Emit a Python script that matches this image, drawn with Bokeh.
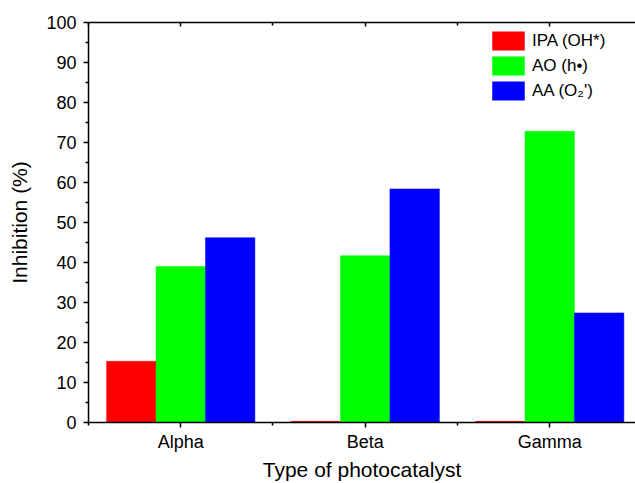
from bokeh.plotting import figure
from bokeh.models import ColumnDataSource, FixedTicker, LinearAxis, Range1d, Legend, LegendItem
from bokeh.transform import dodge
from bokeh.embed import file_html
from bokeh.resources import INLINE

categories = ["Alpha", "Beta", "Gamma"]
series_names = ["IPA (OH*)", "AO (h\u2022)", "AA (O\u2082')"]
ipa = [15.3, 0.3, 0.3]
ao = [39.0, 41.7, 72.8]
aa = [46.2, 58.4, 27.4]
colors = ["#FF0000", "#00FF00", "#0000FF"]
y_ticks = [0, 10, 20, 30, 40, 50, 60, 70, 80, 90, 100]

xpos = [i + 1 for i in range(len(categories))]
src = ColumnDataSource(dict(x=xpos, ipa=ipa, ao=ao, aa=aa))

FONT = "Liberation Sans"

p = figure(width=635, height=483, output_backend="svg", toolbar_location=None,
           x_range=Range1d(0.5, 3.465), y_range=Range1d(0, 100),
           min_border_left=88, min_border_right=0, min_border_top=22, min_border_bottom=61,
           x_axis_label="Type of photocatalyst", y_axis_label="Inhibition (%)")
p.outline_line_color = None
p.grid.visible = False
p.background_fill_color = "white"
p.border_fill_color = "white"

bw = 0.268
renderers = []
for field, off, c in zip(["ipa", "ao", "aa"], [-bw, 0, bw], colors):
    r = p.vbar(x=dodge("x", off), top=field, width=bw, bottom=0, source=src,
               fill_color=c, line_color=c, line_width=0.5)
    renderers.append(r)

xt = FixedTicker(ticks=xpos, minor_ticks=[0.5, 1.5, 2.5, 3.5])
yt = FixedTicker(ticks=y_ticks, minor_ticks=[5, 15, 25, 35, 45, 55, 65, 75, 85, 95])

xa = p.xaxis[0]
xa.ticker = xt
xa.major_label_overrides = {v: c for v, c in zip(xpos, categories)}
ya = p.yaxis[0]
ya.ticker = yt

for ax in (xa, ya):
    ax.axis_line_width = 1.5
    ax.major_tick_line_width = 1.5
    ax.minor_tick_line_width = 1.5
    ax.major_tick_in = 0
    ax.major_tick_out = 5
    ax.minor_tick_in = 0
    ax.minor_tick_out = 3
    ax.major_label_text_font = FONT
    ax.major_label_text_font_size = "18px"
    ax.major_label_text_color = "black"
    ax.axis_label_text_font = FONT
    ax.axis_label_text_font_size = "21px"
    ax.axis_label_text_font_style = "normal"
    ax.axis_label_text_color = "black"

xa.major_label_standoff = 4
xa.axis_label_standoff = 3
ya.major_label_standoff = 7
ya.axis_label_standoff = 12

top = LinearAxis(ticker=xt, major_label_overrides={v: "" for v in xpos})
top.axis_line_width = 1.5
top.major_tick_line_width = 1.5
top.minor_tick_line_width = 1.5
top.major_tick_in = 4
top.major_tick_out = 0
top.minor_tick_in = 3
top.minor_tick_out = 0
top.major_label_text_font_size = "0px"
top.major_label_standoff = 0
p.add_layout(top, "above")

legend = Legend(items=[LegendItem(label=n, renderers=[r]) for n, r in zip(series_names, renderers)],
                location=(400, 320))
legend.border_line_color = None
legend.background_fill_alpha = 0
legend.padding = 0
legend.margin = 0
legend.spacing = 2
legend.glyph_width = 40
legend.glyph_height = 23
legend.label_height = 23
legend.label_standoff = 4
legend.label_text_font = FONT
legend.label_text_font_size = "17px"
legend.label_text_color = "black"
p.add_layout(legend)

open("out.html", "w").write(file_html(p, INLINE))
